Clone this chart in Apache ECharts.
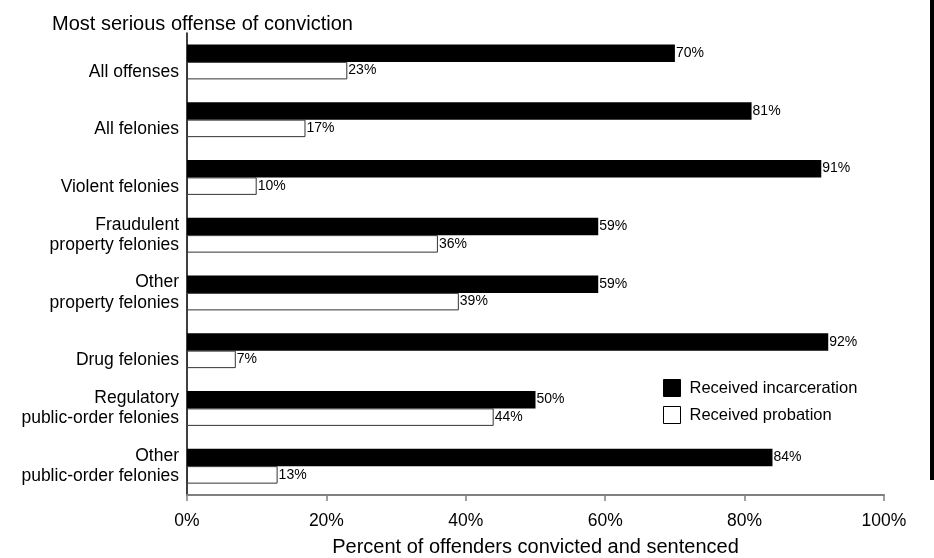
<!DOCTYPE html>
<html>
<head>
<meta charset="utf-8">
<script src="https://cdn.jsdelivr.net/npm/echarts@6/dist/echarts.min.js"></script>
<style>
html,body{margin:0;padding:0;background:#fff;}
#chart{width:934px;height:558px;}
</style>
</head>
<body>
<div id="chart"></div>
<script>
const categories = [
  "All offenses",
  "All felonies",
  "Violent felonies",
  "Fraudulent\nproperty felonies",
  "Other\nproperty felonies",
  "Drug felonies",
  "Regulatory\npublic-order felonies",
  "Other\npublic-order felonies"
];
const incarceration = [70, 81, 91, 59, 59, 92, 50, 84];
const probation = [23, 17, 10, 36, 39, 7, 44, 13];
const xTicks = [0, 20, 40, 60, 80, 100];

const FONT = "'Liberation Sans', Arial, sans-serif";
const chart = echarts.init(document.getElementById('chart'), null, {renderer: 'canvas'});

const yData = categories.map(c => ({
  value: c,
  textStyle: c.indexOf('\n') >= 0
    ? { verticalAlign: 'middle', lineHeight: 20.5 }
    : { verticalAlign: 'top', lineHeight: 20 }
}));

const option = {
  backgroundColor: '#ffffff',
  animation: false,
  textStyle: { fontFamily: FONT },
  title: {
    text: 'Most serious offense of conviction',
    left: 47,
    top: 9,
    textStyle: { fontFamily: FONT, fontSize: 20, fontWeight: 'normal', color: '#000' }
  },
  legend: {
    orient: 'vertical',
    left: 663,
    top: 379,
    padding: 0,
    itemWidth: 17,
    itemHeight: 17,
    itemGap: 9,
    textStyle: { fontFamily: FONT, fontSize: 16.5, color: '#000', padding: [4, 0, 0, 4] },
    data: [
      { name: 'Received incarceration', icon: 'rect', itemStyle: { color: '#000', borderColor: '#000', borderWidth: 1 } },
      { name: 'Received probation', icon: 'rect', itemStyle: { color: '#fff', borderColor: '#000', borderWidth: 1 } }
    ]
  },
  grid: { left: 187, right: 50, top: 33, bottom: 63, containLabel: false, outerBoundsMode: 'none' },
  xAxis: {
    type: 'value',
    min: 0,
    max: 100,
    interval: 20,
    name: 'Percent of offenders convicted and sentenced',
    nameLocation: 'middle',
    nameGap: 42,
    nameTextStyle: { fontFamily: FONT, fontSize: 20, color: '#000' },
    axisLine: { show: true, lineStyle: { color: '#808080', width: 2 } },
    axisTick: { show: true, length: 6, lineStyle: { color: '#808080', width: 1.5 } },
    axisLabel: {
      margin: 17,
      fontFamily: FONT,
      fontSize: 17.5,
      color: '#000',
      formatter: v => (xTicks.indexOf(v) >= 0 ? v + '%' : '')
    },
    splitLine: { show: false }
  },
  yAxis: {
    type: 'category',
    inverse: true,
    data: yData,
    axisLine: { show: true, lineStyle: { color: '#000', width: 1.5 } },
    axisTick: { show: false },
    axisLabel: {
      margin: 8,
      fontFamily: FONT,
      fontSize: 17.5,
      lineHeight: 20,
      color: '#000',
      align: 'right'
    },
    splitLine: { show: false }
  },
  series: [
    {
      name: 'Received incarceration',
      type: 'bar',
      data: incarceration,
      barWidth: 17.5,
      barGap: '0%',
      itemStyle: { color: '#000' },
      label: {
        show: true,
        position: 'right',
        distance: 1,
        fontFamily: FONT,
        fontSize: 14,
        color: '#000',
        formatter: p => p.value + '%'
      }
    },
    {
      name: 'Received probation',
      type: 'bar',
      data: probation,
      barWidth: 17.5,
      barGap: '0%',
      itemStyle: { color: '#fff', borderColor: '#333', borderWidth: 1 },
      label: {
        show: true,
        position: 'right',
        distance: 1,
        fontFamily: FONT,
        fontSize: 14,
        color: '#000',
        formatter: p => p.value + '%'
      }
    }
  ],
  graphic: [
    { type: 'rect', shape: { x: 930, y: 0, width: 4, height: 480 }, style: { fill: '#000' }, silent: true }
  ]
};
chart.setOption(option);
</script>
</body>
</html>
